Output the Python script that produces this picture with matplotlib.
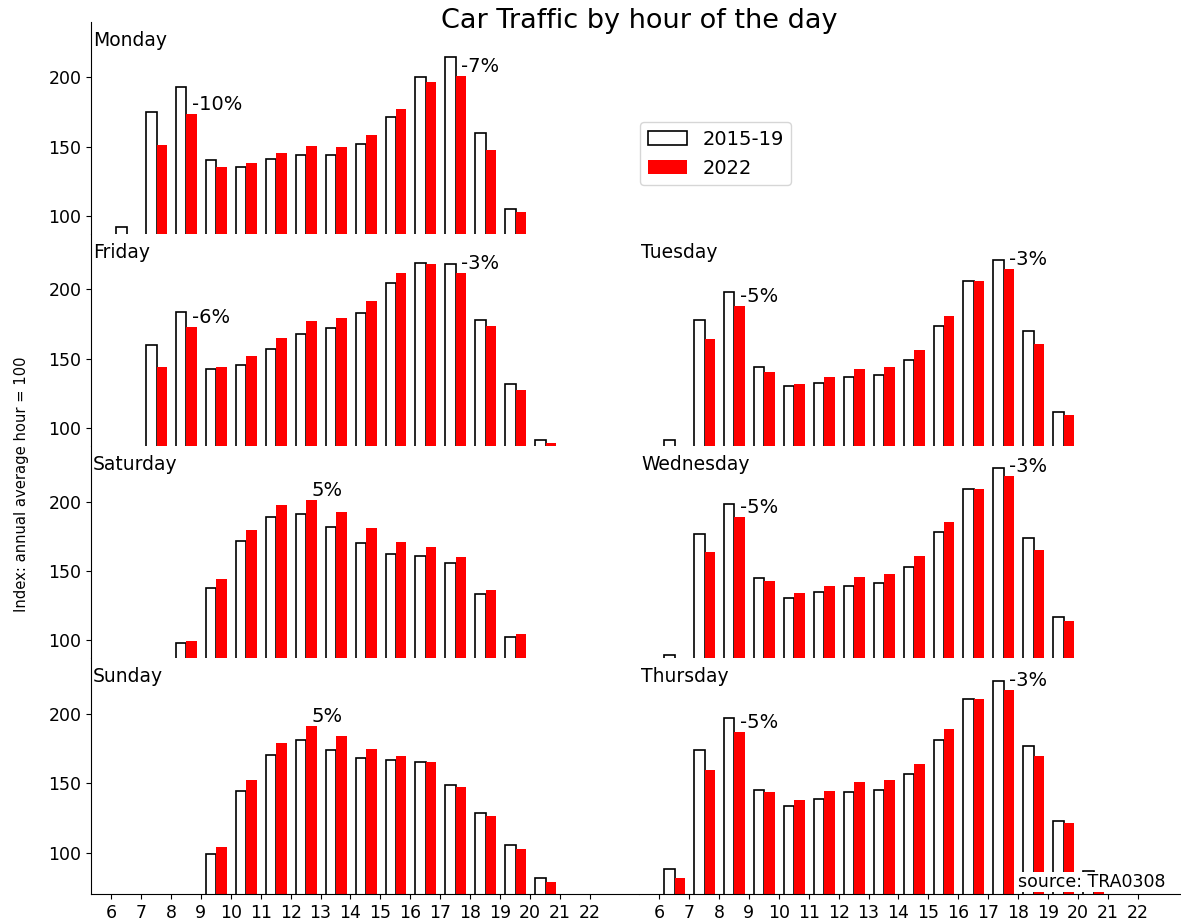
import numpy as np
import matplotlib
matplotlib.use("Agg")
import matplotlib.pyplot as plt

nan = np.nan

hours = list(range(6, 21))

# index values per hour 6..20, "old" = 2015-19 average, "new" = 2022
monday_old = [92.3, 174.8, 192.6, 140.5, 135.5, 141.0, 144.1, 143.9, 151.6, 171.0, 199.8, 214.9, 160.0, 105.0, nan]
monday_new = [nan, 150.8, 173.4, 135.2, 137.9, 145.6, 150.4, 149.9, 158.5, 177.2, 196.2, 200.7, 147.5, 102.9, nan]

tuesday_old = [91.1, 178.1, 198.3, 144.2, 130.0, 132.2, 136.8, 138.0, 148.8, 173.3, 206.3, 221.4, 170.2, 111.5, nan]
tuesday_new = [nan, 164.2, 188.0, 140.1, 131.7, 136.5, 142.8, 144.0, 156.0, 180.8, 206.3, 214.4, 160.6, 109.6, nan]

wednesday_old = [89.6, 176.6, 198.5, 144.6, 130.8, 134.5, 139.4, 141.2, 152.8, 178.1, 208.9, 223.9, 173.5, 116.6, nan]
wednesday_new = [nan, 163.9, 188.8, 142.4, 134.2, 139.3, 145.7, 147.5, 160.7, 185.3, 209.4, 218.1, 165.3, 114.2, nan]

thursday_old = [88.2, 173.8, 196.8, 145.4, 133.7, 138.5, 143.3, 145.4, 156.3, 181.0, 210.8, 223.6, 176.9, 122.8, 86.8]
thursday_new = [81.5, 159.6, 187.0, 143.5, 138.2, 144.5, 150.7, 152.2, 163.9, 188.9, 210.6, 217.5, 169.7, 121.1, 85.8]

friday_old = [nan, 159.6, 183.4, 142.3, 145.2, 157.0, 168.0, 172.1, 182.9, 204.8, 218.8, 218.0, 177.6, 131.7, 91.3]
friday_new = [nan, 143.8, 172.6, 144.0, 152.2, 164.9, 176.9, 179.3, 191.3, 212.0, 218.3, 211.5, 173.6, 127.6, 89.4]

saturday_old = [nan, nan, 98.1, 137.8, 171.8, 188.9, 191.3, 181.9, 170.4, 161.9, 161.0, 155.8, 133.3, 102.2, nan]
saturday_new = [nan, nan, 99.8, 143.9, 179.8, 197.3, 201.2, 192.3, 180.7, 170.8, 167.0, 160.0, 136.1, 104.6, nan]

sunday_old = [nan, nan, nan, 98.6, 144.2, 170.0, 181.3, 174.0, 168.0, 166.8, 165.6, 149.0, 128.6, 105.3, 81.3]
sunday_new = [nan, nan, nan, 104.1, 152.2, 179.1, 191.1, 184.1, 174.8, 169.5, 165.1, 147.1, 126.0, 102.4, 78.4]

# (name, old, new, row, col, hours to label with % change)
panels = [
    ("Monday", monday_old, monday_new, 0, 0, [8, 17]),
    ("Friday", friday_old, friday_new, 1, 0, [8, 17]),
    ("Saturday", saturday_old, saturday_new, 2, 0, [12]),
    ("Sunday", sunday_old, sunday_new, 3, 0, [12]),
    ("Tuesday", tuesday_old, tuesday_new, 1, 1, [8, 17]),
    ("Wednesday", wednesday_old, wednesday_new, 2, 1, [8, 17]),
    ("Thursday", thursday_old, thursday_new, 3, 1, [8, 17]),
]

W, H = 1181, 924
fig = plt.figure(figsize=(W / 100, H / 100), dpi=100)

# rows share the same y scale, last row goes lower
row_ylim = [(87, 240), (87, 240), (87, 240), (70, 240)]
px_per_unit = 1.387
top_px = 21.7
col_left_px = [91, 639]
col_w_px = 548

row_top = []
t = top_px
for lo, hi in row_ylim:
    row_top.append(t)
    t += (hi - lo) * px_per_unit

x = np.array(hours, dtype=float)
axes = {}
for name, old, new, r, c, marks in panels:
    lo, hi = row_ylim[r]
    h_px = (hi - lo) * px_per_unit
    rect = [col_left_px[c] / W, 1 - (row_top[r] + h_px) / H, col_w_px / W, h_px / H]
    ax = fig.add_axes(rect)
    axes[name] = ax
    b1 = ax.bar(x + 0.345, old, width=0.35, color="white", edgecolor="black", linewidth=1.2, label="2015-19")
    b2 = ax.bar(x + 0.695, new, width=0.35, color="red", label="2022")
    ax.set_xlim(5.33, 23.64)
    ax.set_ylim(lo, hi)
    ax.set_yticks([100, 150, 200])
    ax.set_xticks(range(6, 23))
    ax.spines["top"].set_visible(False)
    ax.spines["right"].set_visible(False)
    ax.tick_params(labelsize=12.5)
    if c == 1:
        ax.spines["left"].set_visible(False)
        ax.tick_params(axis="y", left=False, labelleft=False)
    if r < 3:
        ax.spines["bottom"].set_visible(False)
        ax.tick_params(axis="x", bottom=False, labelbottom=False)
    ax.annotate(name, xy=(0, 1), xycoords="axes fraction", xytext=(2, -9),
                textcoords="offset pixels", ha="left", va="top", fontsize=13.5)
    for h in marks:
        i = hours.index(h)
        pct = (new[i] / old[i] - 1) * 100
        ax.text(h + 0.695, new[i], f"{pct:.0f}%", ha="left", va="bottom", fontsize=14)

axes["Thursday"].text(18, 75, "source: TRA0308", fontsize=12.5, va="baseline",
                      bbox=dict(facecolor="white", edgecolor="none", pad=0.5))

fig.legend(handles=[b1, b2], loc="upper left", bbox_to_anchor=(640 / W, 1 - 122 / H),
           borderaxespad=0, fontsize=14)

fig.text(639 / W, 1 - 8 / H, "Car Traffic by hour of the day", ha="center", va="top", fontsize=19.5)
fig.text(21.5 / W, 1 - 484 / H, "Index: annual average hour = 100", rotation=90,
         ha="center", va="center", fontsize=10.6)

fig.savefig("out.png", dpi=100)
